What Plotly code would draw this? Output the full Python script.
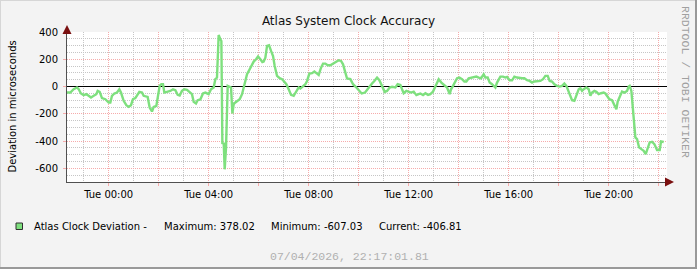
import pandas as pd
import plotly.graph_objects as go

# ---- data: hours relative to Tue 00:00, deviation in microseconds ----
hours = [
    -1.667, -1.533, -1.40, -1.267, -1.20, -1.107, -1.00, -0.893, -0.80, -0.707,
    -0.60, -0.493, -0.44, -0.36, -0.267, -0.133, 0.0, 0.067, 0.133, 0.227,
    0.333, 0.427, 0.493, 0.60, 0.707, 0.80, 0.893, 0.973, 1.067, 1.16,
    1.227, 1.333, 1.40, 1.56, 1.64, 1.733, 1.80, 1.907, 1.973, 2.04,
    2.107, 2.173, 2.227, 2.333, 2.467, 2.573, 2.667, 2.76, 2.84, 2.933,
    3.027, 3.133, 3.24, 3.333, 3.40, 3.493, 3.56, 3.667, 3.773, 3.867,
    4.00, 4.093, 4.20, 4.267, 4.333, 4.40, 4.468, 4.508, 4.548, 4.601,
    4.641, 4.695, 4.761, 4.841, 4.895, 4.948, 5.001, 5.068, 5.161, 5.241,
    5.335, 5.401, 5.468, 5.535, 5.641, 5.735, 5.801, 5.895, 5.975, 6.068,
    6.148, 6.201, 6.268, 6.335, 6.415, 6.495, 6.575, 6.641, 6.735, 6.841,
    6.935, 7.001, 7.108, 7.201, 7.295, 7.401, 7.508, 7.601, 7.668, 7.775,
    7.868, 7.935, 8.028, 8.135, 8.228, 8.335, 8.401, 8.495, 8.575, 8.668,
    8.761, 8.868, 8.975, 9.081, 9.201, 9.295, 9.375, 9.468, 9.535, 9.668,
    9.775, 9.881, 9.988, 10.121, 10.255, 10.348, 10.455, 10.535, 10.628, 10.735,
    10.828, 10.935, 11.041, 11.135, 11.241, 11.335, 11.468, 11.561, 11.668, 11.735,
    11.801, 11.908, 12.001, 12.095, 12.201, 12.308, 12.401, 12.468, 12.575, 12.668,
    12.775, 12.868, 12.975, 13.068, 13.201, 13.308, 13.401, 13.468, 13.535, 13.641,
    13.695, 13.775, 13.868, 13.935, 14.028, 14.135, 14.228, 14.308, 14.401, 14.508,
    14.601, 14.708, 14.801, 14.895, 15.001, 15.068, 15.161, 15.241, 15.335, 15.468,
    15.535, 15.668, 15.775, 15.868, 15.935, 16.041, 16.135, 16.228, 16.335, 16.468,
    16.535, 16.628, 16.735, 16.841, 16.935, 17.028, 17.135, 17.268, 17.375, 17.468,
    17.561, 17.641, 17.735, 17.828, 17.935, 18.041, 18.135, 18.228, 18.308, 18.361,
    18.441, 18.535, 18.628, 18.708, 18.801, 18.868, 18.935, 19.001, 19.108, 19.201,
    19.268, 19.335, 19.428, 19.508, 19.601, 19.695, 19.801, 19.868, 19.935, 20.028,
    20.135, 20.228, 20.308, 20.361, 20.441, 20.535, 20.628, 20.735, 20.801, 20.841,
    20.908, 20.948, 21.001, 21.068, 21.135, 21.215, 21.308, 21.401, 21.481, 21.561,
    21.641, 21.735, 21.828, 21.935, 22.041, 22.095, 22.201,
]
deviation = [
    -44, -44, -20, -7, -20, -51, -63, -56, -68, -80,
    -68, -56, -32, -39, -85, -93, -117, -117, -68, -51,
    -44, -20, -44, -105, -137, -149, -137, -93, -85, -56,
    -39, -44, -68, -76, -154, -183, -149, -142, -80, 5,
    17, 17, -44, -39, -32, -20, -27, -61, -66, -32,
    -20, -24, -44, -56, -112, -124, -100, -95, -51, -44,
    -56, -20, -7, 54, 66, 378.02, 346, 334, -422, -410,
    -607.03, -446, 5, -2, -7, -198, -129, -117, -105, -93,
    -56, -7, 29, 90, 127, 163, 183, 200, 220, 200,
    180, 183, 212, 298, 303, 261, 224, 151, 78, 61,
    54, 41, 17, -20, -61, -68, -32, -7, -15, 5,
    17, 41, 95, 98, 110, 95, 85, 139, 168, 168,
    156, 156, 168, 183, 193, 188, 163, 102, 59, 54,
    17, -2, -27, -51, -44, -20, 10, 22, 41, 66,
    46, 5, -39, -32, -7, -2, -7, 17, 12, -20,
    -49, -32, -37, -44, -37, -63, -56, -51, -63, -49,
    -61, -56, -37, 5, 54, 29, 17, 5, -7, -56,
    -20, 5, 41, 61, 66, 54, 37, 37, 61, 66,
    73, 73, 66, 61, 90, 66, 66, 29, 17, -7,
    29, 73, 73, 66, 71, 46, 46, 73, 66, 61,
    61, 61, 46, 41, 29, 37, 37, 41, 54, 78,
    78, 41, 37, 17, 5, 0, 5, 22, 5, -20,
    -56, -100, -105, -68, -20, -12, -32, -20, -7, -20,
    -68, -44, -32, -39, -56, -49, -44, -51, -68, -93,
    -100, -134, -166, -110, -80, -37, -44, -32, 0, 5,
    -32, -117, -251, -373, -385, -446, -459, -471, -495, -459,
    -410, -405, -422, -466, -466, -403, -406.81,
]

base_day = "2026-04-07 00:00"
range_start = "2026-04-06 22:20"
range_end = "2026-04-07 22:20"
x_major_hours = [0, 2, 4, 6, 8, 10, 12, 14, 16, 18, 20, 22]
x_label_every = 4
y_tick_vals = [-600, -400, -200, 0, 200, 400]
y_range = [-700, 400]

title_text = "Atlas System Clock Accuracy"
y_title = "Deviation in microseconds"
series_name = "Atlas Clock Deviation -"
stat_labels = ["Maximum: 378.02", "Minimum: -607.03", "Current: -406.81"]
footer_text = "07/04/2026, 22:17:01.81"
watermark = "RRDTOOL / TOBI OETIKER"

LINE_COLOR = "#7EE07E"
SANS = "DejaVu Sans"
MONO = "Liberation Mono"
MAJOR_GRID = "#F6ABAB"
MINOR_GRID = "#C6C6C6"
DOTS = "1px,1px"

base = pd.Timestamp(base_day)
times = [base + pd.Timedelta(hours=h) for h in hours]
x_tick_vals = [base + pd.Timedelta(hours=h) for h in x_major_hours]
x_tick_text = [t.strftime("%a %H:%M") if h % x_label_every == 0 else ""
               for t, h in zip(x_tick_vals, x_major_hours)]

fig = go.Figure()
fig.add_trace(go.Scatter(
    x=times, y=deviation, mode="lines",
    line=dict(color=LINE_COLOR, width=2.4),
    showlegend=False, hoverinfo="skip",
))

# geometry helpers (plot area 67..667 px horizontally, 32..182 vertically)
L, T, W, H = 67, 32, 600, 150
def px(x):
    return (x - L) / W
def py(y):
    return (T + H - y) / H

fig.update_layout(
    width=697, height=269, autosize=False,
    margin=dict(l=L, r=697 - L - W, t=T, b=269 - T - H),
    paper_bgcolor="#F3F3F3", plot_bgcolor="#FFFFFF",
    font=dict(family=SANS, size=10, color="#000000"),
    title=dict(text=title_text, x=0.5, xref="container", xanchor="center",
               y=1 - 21 / 269, yref="container", yanchor="middle",
               font=dict(family=SANS, size=12, color="#111111")),
    xaxis=dict(
        type="date", range=[range_start, range_end],
        tickmode="array", tickvals=x_tick_vals, ticktext=x_tick_text,
        showgrid=True, gridcolor=MAJOR_GRID, griddash=DOTS, gridwidth=1,
        ticks="outside", ticklen=3, tickcolor=MAJOR_GRID,
        minor=dict(dtick=3600000, tick0=base_day, showgrid=True,
                   gridcolor=MINOR_GRID, griddash=DOTS, gridwidth=1),
        showline=True, linecolor="#505050", linewidth=1,
        zeroline=False, tickfont=dict(family=SANS, size=10),
        fixedrange=True,
    ),
    yaxis=dict(
        range=y_range, tickmode="array", tickvals=y_tick_vals,
        ticktext=[str(v) for v in y_tick_vals],
        showgrid=True, gridcolor=MAJOR_GRID, griddash=DOTS, gridwidth=1,
        ticks="outside", ticklen=3, tickcolor=MAJOR_GRID,
        minor=dict(dtick=50, tick0=0, showgrid=True,
                   gridcolor=MINOR_GRID, griddash=DOTS, gridwidth=1),
        showline=True, linecolor="#505050", linewidth=1,
        zeroline=True, zerolinecolor="#000000", zerolinewidth=1,
        tickfont=dict(family=SANS, size=10), ticklabelstandoff=3,
        fixedrange=True,
    ),
)

anns = []
# y axis title
anns.append(dict(text=y_title, xref="paper", yref="paper", x=px(11.5), y=0.5,
                 textangle=-90, showarrow=False, xanchor="center", yanchor="middle",
                 font=dict(family=SANS, size=10, color="#000000")))
# watermark
anns.append(dict(text=watermark, xref="paper", yref="paper", x=px(686), y=py(82),
                 textangle=90, showarrow=False, xanchor="center", yanchor="middle",
                 font=dict(family=MONO, size=11.5, color="#A0A0A0")))
# legend texts
anns.append(dict(text=series_name, xref="paper", yref="paper", x=px(32), y=py(226),
                 showarrow=False, xanchor="left", yanchor="middle",
                 font=dict(family=SANS, size=10, color="#000000")))
for label, xpos in zip(stat_labels, [162, 269, 377]):
    anns.append(dict(text=label, xref="paper", yref="paper", x=px(xpos), y=py(226),
                     showarrow=False, xanchor="left", yanchor="middle",
                     font=dict(family=SANS, size=10, color="#000000")))
# footer
anns.append(dict(text=footer_text, xref="paper", yref="paper", x=px(349), y=py(256),
                 showarrow=False, xanchor="center", yanchor="middle",
                 font=dict(family=MONO, size=11.5, color="#B0B0B0")))
# axis arrows
anns.append(dict(x=px(674), y=0, xref="paper", yref="paper", ax=-6, ay=0,
                 axref="pixel", ayref="pixel", showarrow=True, arrowhead=2,
                 arrowsize=1.2, arrowwidth=1.5, arrowcolor="#7A1010", text=""))
anns.append(dict(x=0, y=py(25), xref="paper", yref="paper", ax=0, ay=6,
                 showarrow=True, arrowhead=2, arrowsize=1.2, arrowwidth=1.5,
                 arrowcolor="#7A1010", text=""))
fig.update_layout(annotations=anns)

shapes = [
    # legend colour box
    dict(type="rect", xref="paper", yref="paper", x0=px(16), x1=px(22.5),
         y0=py(229.5), y1=py(223), fillcolor=LINE_COLOR,
         line=dict(color="#303030", width=1)),
    # image border (light top/left, dark bottom/right)
    dict(type="line", xref="paper", yref="paper", x0=px(0), x1=px(697),
         y0=py(0.5), y1=py(0.5), line=dict(color="#D6D6D6", width=1)),
    dict(type="line", xref="paper", yref="paper", x0=px(0.5), x1=px(0.5),
         y0=py(0), y1=py(269), line=dict(color="#D6D6D6", width=1)),
    dict(type="line", xref="paper", yref="paper", x0=px(696), x1=px(696),
         y0=py(0), y1=py(269), line=dict(color="#999999", width=2)),
    dict(type="line", xref="paper", yref="paper", x0=px(0), x1=px(697),
         y0=py(268), y1=py(268), line=dict(color="#999999", width=2)),
]
fig.update_layout(shapes=shapes)

fig.write_html("out.html")
